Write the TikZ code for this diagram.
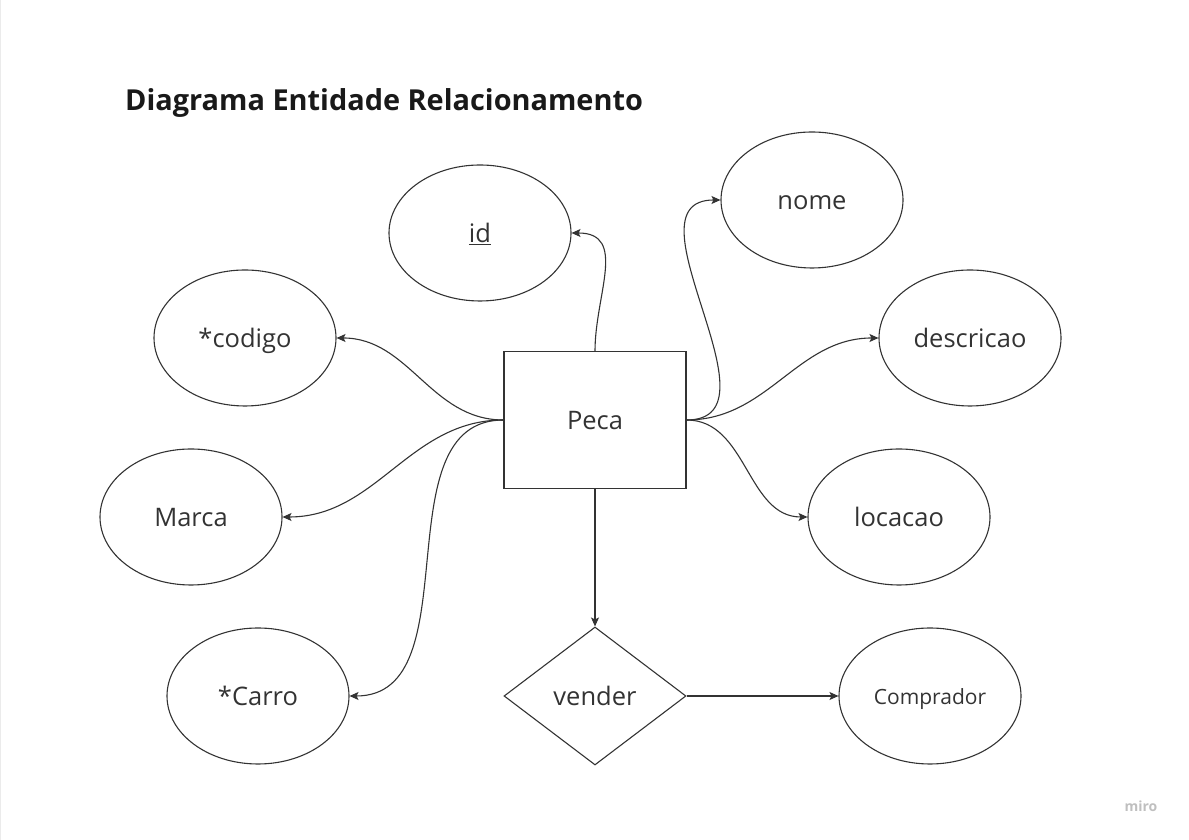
\documentclass[tikz,border=0pt]{standalone}
\usepackage{fontspec}
\setmainfont{Open Sans}
\usepackage{tikz}
\usetikzlibrary{shapes.geometric,arrows.meta}

\tikzset{
  attr/.style={draw=black!80,line width=1.1pt,ellipse,
    minimum width=182pt,minimum height=136pt,inner sep=0pt,
    text height=20pt,text depth=0pt,
    text=black!80,font=\fontsize{25.5}{30}\selectfont},
  entity/.style={draw=black!80,line width=1.1pt,rectangle,
    minimum width=182pt,minimum height=137pt,inner sep=0pt,
    text height=20pt,text depth=0pt,
    text=black!80,font=\fontsize{25.5}{30}\selectfont},
  rel/.style={draw=black!80,line width=1.1pt,diamond,aspect=1.32,
    minimum width=182pt,minimum height=138pt,inner sep=0pt,
    text height=20pt,text depth=0pt,
    text=black!80,font=\fontsize{25.5}{30}\selectfont},
  link/.style={draw=black!80,line width=1.1pt,
    -{Stealth[length=9pt,width=8pt,inset=2pt]}}
}

\begin{document}
\begin{tikzpicture}[x=1pt,y=1pt]

    \useasboundingbox (0,0) rectangle (1189,840);
    \draw[black!8,line width=1pt] (0.5,0) -- (0.5,840);

    \node[anchor=base west,inner sep=0pt,text=black!90,
      font=\fontsize{28.9}{34}\bfseries] (titulo) at (125,729)
      {Diagrama Entidade Relacionamento};

    % entidade e relacionamento
    \node[entity] (peca) at (595,420) {Peca};
    \node[rel] (vender) at (595,144) {vender};

    % atributos
    \node[attr] (id) at (480,607) {\underline{id}};
    \node[attr] (nome) at (812,640) {nome};
    \node[attr] (codigo) at (245,502) {*codigo};
    \node[attr] (descricao) at (970,502) {descricao};
    \node[attr] (marca) at (191,323) {Marca};
    \node[attr] (locacao) at (899,323) {locacao};
    \node[attr] (carro) at (258,144) {*Carro};
    \node[attr,text height=16.4pt,font=\fontsize{21}{25}\selectfont]
      (comprador) at (930,144) {Comprador};

    % ligacoes
    \draw[link] (peca.north) to[out=90,in=0,looseness=1.2] (id.east);
    \draw[link] (peca.east) to[out=0,in=180,looseness=1.15] (nome.west);
    \draw[link] (peca.east) to[out=0,in=180] (descricao.west);
    \draw[link] (peca.east) to[out=0,in=180] (locacao.west);
    \draw[link] (peca.west) to[out=180,in=0] (codigo.east);
    \draw[link] (peca.west) to[out=180,in=0] (marca.east);
    \draw[link] (peca.west) to[out=180,in=0] (carro.east);
    \draw[link] (peca.south) -- (vender.north);
    \draw[link] (vender.east) -- (comprador.west);

    \node[text=black!25,font=\fontsize{14}{16}\bfseries] (miro)
      at (1141,34) {miro};

\end{tikzpicture}
\end{document}
